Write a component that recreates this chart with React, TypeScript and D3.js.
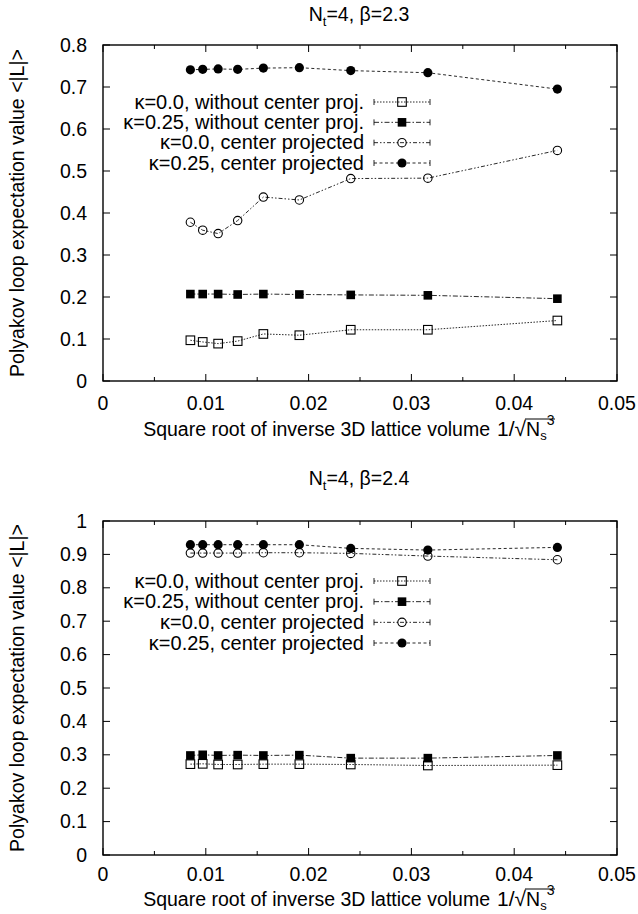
import * as d3 from "d3";

// x positions: 1/sqrt(Ns^3)
const xValues = [0.0085, 0.0097, 0.0112, 0.0131, 0.0156, 0.0191, 0.0241, 0.0316, 0.0442];

// beta = 2.3
const topOpenSquares = [0.097, 0.093, 0.089, 0.095, 0.112, 0.109, 0.122, 0.122, 0.144];
const topFilledSquares = [0.207, 0.207, 0.207, 0.206, 0.207, 0.206, 0.205, 0.204, 0.196];
const topOpenCircles = [0.378, 0.359, 0.351, 0.382, 0.438, 0.431, 0.482, 0.483, 0.549];
const topFilledCircles = [0.741, 0.742, 0.743, 0.742, 0.745, 0.746, 0.739, 0.734, 0.695];

// beta = 2.4
const botOpenSquares = [0.272, 0.273, 0.271, 0.271, 0.272, 0.272, 0.271, 0.268, 0.269];
const botFilledSquares = [0.298, 0.3, 0.298, 0.299, 0.298, 0.299, 0.29, 0.29, 0.298];
const botOpenCircles = [0.904, 0.904, 0.904, 0.904, 0.905, 0.905, 0.903, 0.895, 0.884];
const botFilledCircles = [0.929, 0.929, 0.929, 0.929, 0.929, 0.929, 0.918, 0.913, 0.921];

const legendLabels = [
  "κ=0.0, without center proj.",
  "κ=0.25, without center proj.",
  "κ=0.0, center projected",
  "κ=0.25, center projected",
];
const markers = ["openSquare", "filledSquare", "openCircle", "filledCircle"];
const dashes = ["1.5,1.5", "5,2,1.5,2", "4,2,1.5,2,1.5,2", "3,2.5"];

const xMajorTicks = [0, 0.01, 0.02, 0.03, 0.04, 0.05];
const xMinorTicks = [0.005, 0.015, 0.025, 0.035, 0.045];
const yTicksTop = [0, 0.1, 0.2, 0.3, 0.4, 0.5, 0.6, 0.7, 0.8];
const yTicksBottom = [0, 0.1, 0.2, 0.3, 0.4, 0.5, 0.6, 0.7, 0.8, 0.9, 1];

const FONT = "'Liberation Sans', Arial, Helvetica, sans-serif";
const FS = 19.5;

function Marker({ kind, cx, cy }) {
  const s = 8.6;
  if (kind === "openSquare")
    return <rect x={cx - s / 2} y={cy - s / 2} width={s} height={s} fill="none" stroke="#000" strokeWidth={1.1} />;
  if (kind === "filledSquare")
    return <rect x={cx - s / 2} y={cy - s / 2} width={s} height={s} fill="#000" />;
  if (kind === "openCircle")
    return <circle cx={cx} cy={cy} r={4.2} fill="none" stroke="#000" strokeWidth={1.1} />;
  return <circle cx={cx} cy={cy} r={4.6} fill="#000" />;
}

function Panel({ top, bottom, yMax, yTicks, series, titleValue, titleY, legendY, labelOffset, tickOffset }) {
  const x = d3.scaleLinear().domain([0, 0.05]).range([103, 617]);
  const y = d3.scaleLinear().domain([0, yMax]).range([bottom, top]);
  const line = d3.line<number>().x((d, i) => x(xValues[i])).y((d) => y(d));
  const legendRow = d3.scalePoint<number>().domain([0, 1, 2, 3]).range(legendY);
  const fmt = (v: number) => (v === 0 ? "0" : d3.format("~g")(v));
  const major = 7;
  const minor = 4;
  const [x0, x1] = x.range();
  const ly0 = bottom + labelOffset;

  return (
    <g>
      {/* title */}
      <text x={359} y={titleY} textAnchor="middle" fontSize={FS}>
        <tspan>N</tspan>
        <tspan dy={5} fontSize={13}>t</tspan>
        <tspan dy={-5}>=4, β={titleValue}</tspan>
      </text>

      {/* ticks */}
      {xMajorTicks.map((t) => (
        <g key={"xM" + t}>
          <line x1={x(t)} x2={x(t)} y1={bottom} y2={bottom - major} stroke="#000" />
          <line x1={x(t)} x2={x(t)} y1={top} y2={top + major} stroke="#000" />
          <text x={x(t)} y={bottom + tickOffset} textAnchor="middle" fontSize={FS}>{fmt(t)}</text>
        </g>
      ))}
      {xMinorTicks.map((t) => (
        <g key={"xm" + t}>
          <line x1={x(t)} x2={x(t)} y1={bottom} y2={bottom - minor} stroke="#000" />
          <line x1={x(t)} x2={x(t)} y1={top} y2={top + minor} stroke="#000" />
        </g>
      ))}
      {yTicks.map((t) => (
        <g key={"y" + t}>
          <line x1={x0} x2={x0 + major} y1={y(t)} y2={y(t)} stroke="#000" />
          <line x1={x1} x2={x1 - major} y1={y(t)} y2={y(t)} stroke="#000" />
          <text x={87} y={y(t) + 6.5} textAnchor="end" fontSize={FS}>{fmt(t)}</text>
        </g>
      ))}

      {/* frame */}
      <rect x={x0} y={top} width={x1 - x0} height={bottom - top} fill="none" stroke="#000" strokeWidth={1.4} />

      {/* y label */}
      <text transform={`translate(24,${(top + bottom) / 2}) rotate(-90)`} textAnchor="middle" fontSize={FS}>
        Polyakov loop expectation value &lt;|L|&gt;
      </text>

      {/* x label */}
      <text x={490} y={ly0} textAnchor="end" fontSize={FS}>
        Square root of inverse 3D lattice volume
      </text>
      <text x={497} y={ly0} fontSize={21}>
        <tspan>1/√</tspan>
        <tspan fontSize={19.5}>N</tspan>
        <tspan dy={4} fontSize={13}>s</tspan>
        <tspan dy={-15} fontSize={14}>3</tspan>
      </text>
      <line x1={525} x2={555} y1={ly0 - 17} y2={ly0 - 17} stroke="#000" strokeWidth={1} />

      {/* series */}
      {series.map((vals, k) => (
        <g key={"s" + k}>
          <path d={line(vals)} fill="none" stroke="#111" strokeWidth={0.9} strokeDasharray={dashes[k]} />
          {vals.map((v, i) => (
            <Marker key={i} kind={markers[k]} cx={x(xValues[i])} cy={y(v)} />
          ))}
        </g>
      ))}

      {/* legend */}
      {legendLabels.map((lab, k) => {
        const ly = legendRow(k);
        return (
          <g key={"l" + k}>
            <text x={364} y={ly + 6.8} textAnchor="end" fontSize={20}>{lab}</text>
            <line x1={374} x2={430} y1={ly} y2={ly} stroke="#111" strokeWidth={0.9} strokeDasharray={dashes[k]} />
            <line x1={374} x2={374} y1={ly - 3} y2={ly + 3} stroke="#111" strokeWidth={0.9} />
            <line x1={430} x2={430} y1={ly - 3} y2={ly + 3} stroke="#111" strokeWidth={0.9} />
            <Marker kind={markers[k]} cx={402} cy={ly} />
          </g>
        );
      })}
    </g>
  );
}

export default function App() {
  return (
    <svg
      width={638}
      height={914}
      style={{ position: "absolute", left: 0, top: 0, background: "#fff" }}
      fontFamily={FONT}
    >
      <rect width={638} height={914} fill="#fff" />
      <Panel
        top={45}
        bottom={381}
        yMax={0.8}
        yTicks={yTicksTop}
        series={[topOpenSquares, topFilledSquares, topOpenCircles, topFilledCircles]}
        titleValue="2.3"
        titleY={21}
        legendY={[102, 163]}
        labelOffset={55}
        tickOffset={29}
      />
      <Panel
        top={521}
        bottom={855}
        yMax={1}
        yTicks={yTicksBottom}
        series={[botOpenSquares, botFilledSquares, botOpenCircles, botFilledCircles]}
        titleValue="2.4"
        titleY={485}
        legendY={[581, 643]}
        labelOffset={51}
        tickOffset={26}
      />
    </svg>
  );
}
